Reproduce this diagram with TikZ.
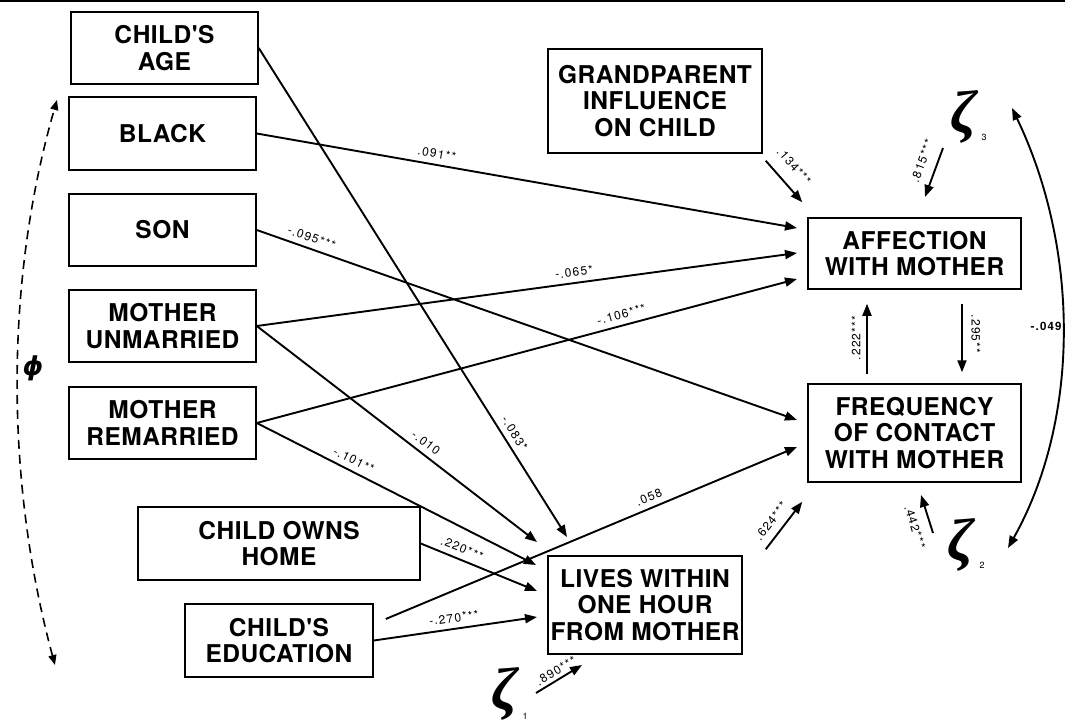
\documentclass[tikz,border=0pt]{standalone}
\usepackage{fontspec}
\setmainfont{TeX Gyre Heros}
\usetikzlibrary{arrows.meta,calc}
\newfontfamily\boxfont[LetterSpace=2]{TeX Gyre Heros}
\newfontfamily\labfont[LetterSpace=10]{TeX Gyre Heros}
\newfontfamily\zfont{Liberation Serif}
\newfontfamily\phifont{DejaVu Sans}
\tikzset{
  vbox/.style={draw, line width=1.5pt, align=center, inner sep=0pt,
    font=\boxfont\bfseries\fontsize{24.5}{26.5}\selectfont},
  arr/.style={line width=1.9pt, -{Triangle[length=12pt,width=9pt]}},
  lab/.style={font=\labfont\fontsize{12}{12}\selectfont, inner sep=1.5pt},
  slab/.style={lab, sloped, above=4pt},
  zeta/.style={inner sep=0pt, font=\zfont\bfseries\itshape\fontsize{60}{60}\selectfont},
  zsub/.style={inner sep=0pt, font=\fontsize{9}{9}\selectfont},
}
\begin{document}
\begin{tikzpicture}[x=1pt,y=-1pt]
\useasboundingbox (0,0) rectangle (1065,722);
\draw[line width=2pt] (0,1) -- (1065,1);

% boxes
\node[vbox, minimum width=187pt, minimum height=72pt] (age) at (164.5,48) {CHILD'S\\AGE};
\node[vbox, minimum width=187pt, minimum height=73pt] (black) at (162.5,133.5) {BLACK};
\node[vbox, minimum width=187pt, minimum height=72pt] (son) at (162.5,230) {SON};
\node[vbox, minimum width=187pt, minimum height=72pt] (unm) at (162.5,326) {MOTHER\\UNMARRIED};
\node[vbox, minimum width=187pt, minimum height=72pt] (rem) at (162.5,423) {MOTHER\\REMARRIED};
\node[vbox, minimum width=282pt, minimum height=73pt] (home) at (279,543.5) {CHILD OWNS\\HOME};
\node[vbox, minimum width=188pt, minimum height=73pt] (educ) at (279,640.5) {CHILD'S\\EDUCATION};
\node[vbox, minimum width=194pt, minimum height=98pt] (lives) at (645,605) {LIVES WITHIN\\ONE HOUR\\FROM MOTHER};
\node[vbox, minimum width=214pt, minimum height=104pt] (grand) at (655,101) {GRANDPARENT\\INFLUENCE\\ON CHILD};
\node[vbox, minimum width=213pt, minimum height=71pt] (aff) at (914.5,253.5) {AFFECTION\\WITH MOTHER};
\node[vbox, minimum width=213pt, minimum height=98pt] (freq) at (914.5,433) {FREQUENCY\\OF CONTACT\\WITH MOTHER};

% disturbance terms
\node[zeta] (z3) at (964,117) {ζ};
\node[zsub] (s3) at (984,137) {3};
\node[zeta] (z2) at (961,545) {ζ};
\node[zsub] (s2) at (982,565) {2};
\node[zeta] (z1) at (505,694) {ζ};
\node[zsub] (s1) at (525,716) {1};
\node[inner sep=0pt, font=\phifont\bfseries\itshape\fontsize{26}{26}\selectfont] (phi) at (33,368) {ϕ};

% arrow targets
\coordinate (a1) at (797,228);
\coordinate (a2) at (797,253);
\coordinate (a3) at (797,279);
\coordinate (f1) at (797,420);
\coordinate (f2) at (797,447);
\coordinate (l1) at (537,542);
\coordinate (l2) at (567,537);
\coordinate (l3) at (536,565);
\coordinate (l4) at (537,591);
\coordinate (l5) at (537,617);

% paths
\draw[arr] (age.east) -- node[slab, pos=0.8] {-.083*} (l2);
\draw[arr] (black.east) -- node[slab, pos=0.33] {.091**} (a1);
\draw[arr] (son.east) -- node[slab, pos=0.095] {-.095***} (f1);
\draw[arr] (unm.east) -- node[slab, pos=0.59] {-.065*} (a2);
\draw[arr] (unm.east) -- node[slab, pos=0.58] {-.010} (l1);
\draw[arr] (rem.east) -- node[slab, pos=0.68] {-.106***} (a3);
\draw[arr] (rem.east) -- node[slab, pos=0.33] {-.101**} (l3);
\draw[arr] (home.east) -- node[slab, pos=0.32] {.220***} (l4);
\draw[arr] (educ.east) -- node[slab, pos=0.5] {-.270***} (l5);
\draw[arr] ([xshift=12pt,yshift=21.5pt]educ.east) -- node[slab, pos=0.65] {.058} (f2);

% short arrows
\draw[arr] ([xshift=3pt,yshift=-7pt]grand.south east) -- ([xshift=-5pt,yshift=15pt]aff.north west);
\node[lab, rotate=-48.5] (t134) at (794,166) {.134***};

\coordinate (z3a) at (943,148);
\coordinate (z3b) at (925,197);
\draw[arr] (z3a) -- (z3b);
\node[lab, rotate=70] (t815) at (922,161) {.815***};

\draw[arr, shorten <=9pt, shorten >=14pt] ([xshift=-47.5pt]freq.north) -- ([xshift=-47.5pt]aff.south);
\node[lab, rotate=90] (t222) at (856,338) {.222***};
\draw[arr, shorten <=14pt, shorten >=11pt] ([xshift=47.5pt]aff.south) -- ([xshift=47.5pt]freq.north);
\node[lab, rotate=-90] (t295) at (976,334) {.295**};

\draw[arr] ([xshift=23pt,yshift=6pt]lives.north east) -- ([xshift=-5pt,yshift=-19pt]freq.south west);
\node[lab, rotate=52] (t624) at (771,521) {.624***};

\coordinate (z2a) at (933,533);
\coordinate (z2b) at (921,495);
\draw[arr] (z2a) -- (z2b);
\node[lab, rotate=-72.5] (t442) at (915,527) {.442***};

\coordinate (z1a) at (536,693);
\coordinate (z1b) at (582,665);
\draw[arr] (z1a) -- (z1b);
\node[lab, rotate=31] (t890) at (556,671) {.890***};

% correlation of disturbances
\coordinate (c3) at (1012,108);
\coordinate (c2) at (1008,548);
\draw[line width=1.9pt, {Triangle[length=12pt,width=9pt]}-{Triangle[length=12pt,width=9pt]}]
  (c3) .. controls (1080,250) and (1080,420) .. (c2);
\node[lab, font=\labfont\bfseries\fontsize{11.5}{11.5}\selectfont, anchor=west] (t049) at (1029,326) {-.049};

% exogenous correlation
\coordinate (d1) at (55,665);
\coordinate (d2) at (57,100);
\draw[line width=1.6pt, dash pattern=on 9pt off 6pt, {Triangle[length=10pt,width=8pt]}-{Triangle[length=10pt,width=8pt]}]
  (d1) .. controls (5,480) and (5,280) .. (d2);
\end{tikzpicture}
\end{document}
